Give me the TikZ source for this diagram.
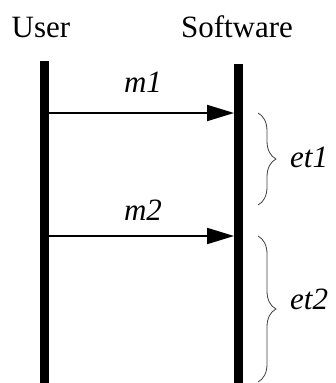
\documentclass[tikz,border=0pt]{standalone}
\usepackage{fontspec}
\setmainfont{Liberation Serif}
\usetikzlibrary{arrows.meta,decorations.pathreplacing}
\begin{document}
\begin{tikzpicture}[x=1pt,y=-1pt,
  lifeline/.style={line width=9pt},
  msg/.style={line width=2pt,-{Triangle[length=27pt,width=16pt]}},
  lbl/.style={font=\fontsize{31}{31}\selectfont,anchor=base,inner sep=0pt},
  ilbl/.style={font=\fontsize{31}{31}\selectfont\itshape,anchor=base,inner sep=0pt},
  brc/.style={decorate,decoration={brace,amplitude=18pt},draw=black!75,line width=0.8pt}]
\useasboundingbox (0,0) rectangle (335,383);
\node[lbl] (user) at (41,37) {User};
\node[lbl] (soft) at (237,37) {Software};
\coordinate (u0) at (44.5,61);
\coordinate (u1) at (44.5,383);
\coordinate (s0) at (238.5,64);
\coordinate (s1) at (238.5,383);
\draw[lifeline] (u0) -- (u1);
\draw[lifeline] (s0) -- (s1);
\coordinate (a1s) at (49,113);
\coordinate (a1e) at (234,113);
\coordinate (a2s) at (49,236);
\coordinate (a2e) at (234,236);
\draw[msg] (a1s) -- (a1e);
\draw[msg] (a2s) -- (a2e);
\node[ilbl] (m1) at (143,92) {m1};
\node[ilbl] (m2) at (143,220) {m2};
\coordinate (b1t) at (258,113);
\coordinate (b1b) at (258,205);
\coordinate (b2t) at (258,236);
\coordinate (b2b) at (258,382);
\draw[brc] (b1t) -- (b1b);
\draw[brc] (b2t) -- (b2b);
\node[ilbl,anchor=base west] (et1) at (290,167) {et1};
\node[ilbl,anchor=base west] (et2) at (290,309) {et2};
\end{tikzpicture}
\end{document}
